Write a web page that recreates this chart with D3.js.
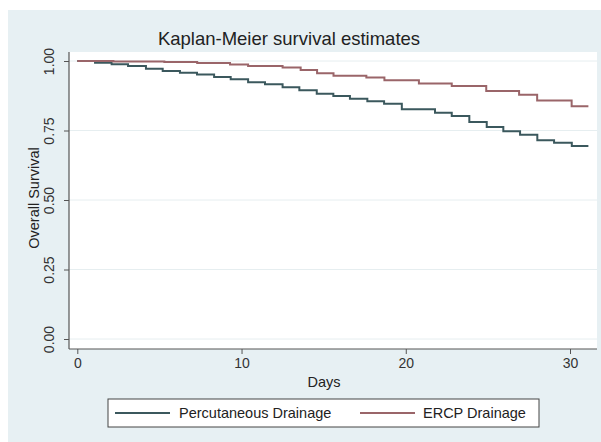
<!DOCTYPE html>
<html>
<head>
<meta charset="utf-8">
<script src="https://cdn.jsdelivr.net/npm/d3@7"></script>
<style>
  html, body { margin: 0; padding: 0; background: #ffffff; }
  svg { display: block; font-family: "Liberation Sans", Arial, sans-serif; }
</style>
</head>
<body>
<svg id="chart" width="601" height="442"></svg>
<script>
// ---- data ----
const titleText = "Kaplan-Meier survival estimates";
const xLabel = "Days";
const yLabel = "Overall Survival";
const xTicks = [0, 10, 20, 30];
const yTicks = [0, 0.25, 0.5, 0.75, 1];
const seriesNames = ["Percutaneous Drainage", "ERCP Drainage"];

const percDays = [0, 1.08, 2.09, 3.09, 4.18, 5.2, 6.25, 7.29, 8.33, 9.34, 10.4, 11.43, 12.5, 13.52, 14.58, 15.59, 16.6, 17.66, 18.68, 19.76, 21.78, 22.8, 23.87, 24.93, 25.94, 26.96, 28.01, 29.03, 30.11, 31.12];
const percSurv = [1.0, 0.994, 0.988, 0.982, 0.972, 0.964, 0.958, 0.951, 0.942, 0.934, 0.924, 0.916, 0.906, 0.895, 0.882, 0.874, 0.864, 0.855, 0.846, 0.826, 0.814, 0.802, 0.781, 0.763, 0.747, 0.735, 0.715, 0.706, 0.694, 0.694];

const ercpDays = [0, 2.2, 5.3, 7.3, 9.3, 10.4, 12.5, 13.6, 14.6, 15.6, 17.6, 18.7, 20.8, 22.8, 24.9, 26.9, 28.0, 30.1, 31.12];
const ercpSurv = [1.0, 0.998, 0.996, 0.993, 0.987, 0.982, 0.977, 0.968, 0.956, 0.947, 0.941, 0.931, 0.919, 0.910, 0.892, 0.879, 0.858, 0.837, 0.837];

const colors = ["#3b585d", "#9a6569"];

// ---- drawing ----
const svg = d3.select("#chart");

// outer background
svg.append("rect").attr("x", 8).attr("y", 10).attr("width", 593).attr("height", 432)
  .attr("fill", "#e7f0f3");

// plot region
const plot = {left: 69, right: 597, top: 52, bottom: 349};
svg.append("rect").attr("x", plot.left).attr("y", plot.top)
  .attr("width", plot.right - plot.left).attr("height", plot.bottom - plot.top)
  .attr("fill", "#ffffff");

const x = d3.scaleLinear().domain([0, 30]).range([77.3, 570]);
const y = d3.scaleLinear().domain([0, 1]).range([339, 61]);

// grid lines
svg.append("g").selectAll("line").data(yTicks).join("line")
  .attr("x1", plot.left).attr("x2", plot.right)
  .attr("y1", d => y(d)).attr("y2", d => y(d))
  .attr("stroke", "#e6eef0").attr("stroke-width", 1);

// title
svg.append("text").attr("x", 289).attr("y", 45).attr("text-anchor", "middle")
  .attr("font-size", 18.5).attr("fill", "#222").text(titleText);

// y axis
const yAxis = d3.axisLeft(y).tickValues(yTicks).tickFormat(d3.format(".2f")).tickSize(5).tickPadding(0);
const gy = svg.append("g").attr("transform", `translate(${plot.left},0)`).call(yAxis);
gy.select(".domain").remove();
gy.append("line").attr("x1", 0).attr("x2", 0).attr("y1", plot.top).attr("y2", plot.bottom)
  .attr("stroke", "#555").attr("stroke-width", 1.2);
gy.selectAll(".tick line").attr("stroke", "#555");
gy.selectAll(".tick text")
  .attr("font-size", 14).attr("fill", "#333")
  .attr("text-anchor", "middle")
  .attr("x", null).attr("dy", null)
  .attr("transform", "translate(-15,0) rotate(-90)");

// x axis
const xAxis = d3.axisBottom(x).tickValues(xTicks).tickFormat(d3.format("d")).tickSize(5).tickPadding(4);
const gx = svg.append("g").attr("transform", `translate(0,${plot.bottom})`).call(xAxis);
gx.select(".domain").remove();
gx.append("line").attr("x1", plot.left).attr("x2", plot.right).attr("y1", 0).attr("y2", 0)
  .attr("stroke", "#555").attr("stroke-width", 1.2);
gx.selectAll(".tick line").attr("stroke", "#555");
gx.selectAll(".tick text").attr("font-size", 14).attr("fill", "#333");

// axis titles
svg.append("text").attr("x", 324).attr("y", 387).attr("text-anchor", "middle")
  .attr("font-size", 14.5).attr("fill", "#222").text(xLabel);
svg.append("text").attr("transform", "translate(39,198) rotate(-90)").attr("text-anchor", "middle")
  .attr("font-size", 14.5).attr("fill", "#222").text(yLabel);

// curves
const line = d3.line().curve(d3.curveStepAfter).x(d => x(d[0])).y(d => y(d[1]));
const series = [
  d3.zip(percDays, percSurv),
  d3.zip(ercpDays, ercpSurv)
];
series.forEach((s, i) => {
  svg.append("path").datum(s).attr("d", line)
    .attr("fill", "none").attr("stroke", colors[i]).attr("stroke-width", 2);
});

// legend
const leg = svg.append("g");
leg.append("rect").attr("x", 108).attr("y", 399).attr("width", 431).attr("height", 28)
  .attr("fill", "#ffffff").attr("stroke", "#444").attr("stroke-width", 1);
const legItems = [{lx: 115, tx: 179}, {lx: 360, tx: 423}];
legItems.forEach((it, i) => {
  leg.append("line").attr("x1", it.lx).attr("x2", it.lx + 55).attr("y1", 413).attr("y2", 413)
    .attr("stroke", colors[i]).attr("stroke-width", 1.8);
  leg.append("text").attr("x", it.tx).attr("y", 418).attr("font-size", 14.5).attr("fill", "#222")
    .text(seriesNames[i]);
});
</script>
</body>
</html>
